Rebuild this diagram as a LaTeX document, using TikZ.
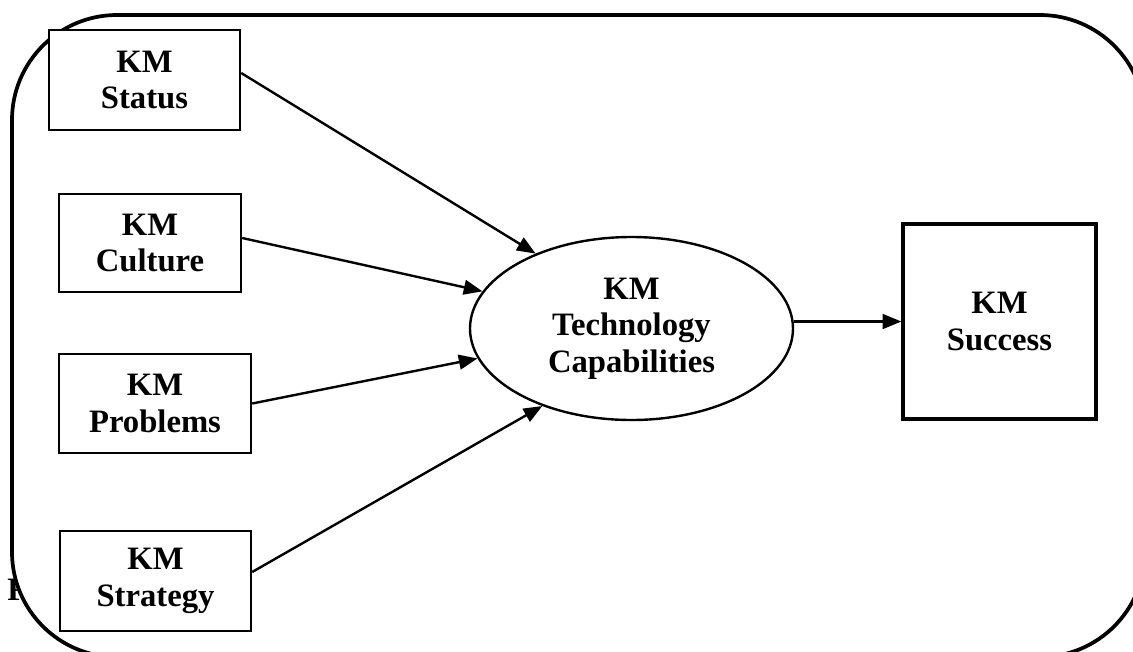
\documentclass[tikz,border=0pt]{standalone}
\usepackage{fontspec}
\setmainfont{Liberation Serif}
\usetikzlibrary{arrows.meta,shapes.geometric}
\begin{document}
\begin{tikzpicture}[x=0.75pt,y=-0.75pt,
  lbl/.style={font=\bfseries\fontsize{24.5}{27.4}\selectfont, align=center},
  kmbox/.style={lbl, draw, line width=1.8pt, fill=white, inner sep=0pt},
  arr/.style={line width=1.8pt, -{Triangle[length=14pt,width=11pt]}},
]
\useasboundingbox (0,0) rectangle (1133,651);
\clip (0,0) rectangle (1133,651);
\node[lbl, anchor=base west, inner sep=0pt] (fig) at (7,600) {F};
\draw[line width=2.8pt, fill=white, rounded corners=78.75pt] (12,15) rectangle (1145,657);
\node[kmbox, minimum width=143.25pt, minimum height=75pt] (status) at (144.5,80) {KM\\Status};
\node[kmbox, minimum width=136.5pt, minimum height=73.5pt] (culture) at (150,243) {KM\\Culture};
\node[kmbox, minimum width=144pt, minimum height=74.25pt] (problems) at (155,403.5) {KM\\Problems};
\node[kmbox, minimum width=143.25pt, minimum height=75pt] (strategy) at (155.5,581) {KM\\Strategy};
\node[kmbox, line width=2.4pt, minimum width=144.75pt, minimum height=146.25pt] (success) at (999.5,321.5) {KM\\Success};
\node[kmbox, ellipse, minimum width=242.25pt, minimum height=137.25pt] (tc) at (631.5,328.5) {KM\\Technology\\Capabilities};
\draw[arr] ([yshift=5.25pt]status.east) -- (tc.142);
\draw[arr] ([yshift=3.75pt]culture.east) -- (tc.166);
\draw[arr] (problems.east) -- (tc.191);
\draw[arr] ([yshift=6.75pt]strategy.east) -- (tc.221);
\draw[arr] (tc.east |- success.west) -- (success.west);
\end{tikzpicture}
\end{document}
